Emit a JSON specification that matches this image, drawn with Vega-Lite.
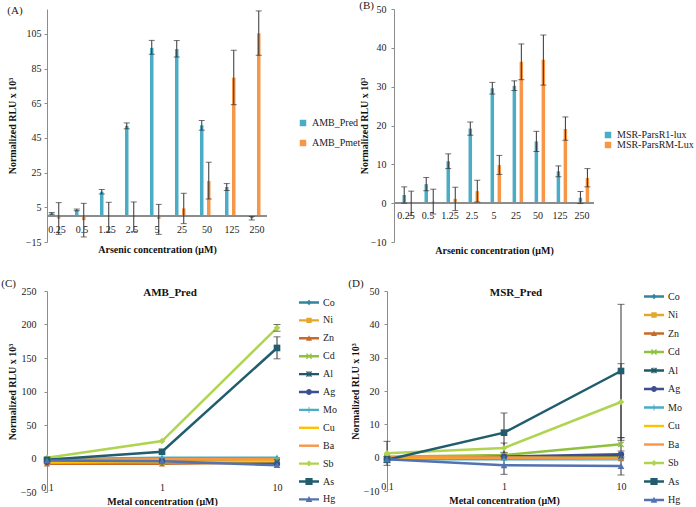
{
  "$schema": "https://vega.github.io/schema/vega-lite/v6.json",
  "padding": {"left": 1, "top": 0, "right": 0, "bottom": 0},
  "background": "white",
  "config": {
    "font": "Liberation Serif",
    "view": {"stroke": null},
    "axis": {"labelFont": "Liberation Serif", "labelFontSize": 10, "labelColor": "#222", "titleFont": "Liberation Serif", "titleFontSize": 10, "titleFontWeight": "bold", "titleColor": "#111", "domainColor": "#8c8c8c", "tickColor": "#8c8c8c", "grid": false},
    "legend": {"labelFont": "Liberation Serif", "labelFontSize": 10, "labelColor": "#222", "padding": 0},
    "title": {"font": "Liberation Serif", "fontSize": 11, "fontWeight": "normal", "color": "#222", "anchor": "start"},
    "text": {"font": "Liberation Serif", "fontSize": 10, "color": "#222"}
  },
  "datasets": {
    "A": [
      {"conc": "0.25", "series": "AMB_Pred", "value": 1.5, "lo": 1.0, "hi": 2.0},
      {"conc": "0.25", "series": "AMB_Pmet", "value": -1.5, "lo": -10.6, "hi": 7.7},
      {"conc": "0.5", "series": "AMB_Pred", "value": 3.5, "lo": 3.0, "hi": 4.0},
      {"conc": "0.5", "series": "AMB_Pmet", "value": -2.4, "lo": -12.1, "hi": 7.3},
      {"conc": "1.25", "series": "AMB_Pred", "value": 14, "lo": 12.7, "hi": 15.3},
      {"conc": "1.25", "series": "AMB_Pmet", "value": -0.5, "lo": -9.2, "hi": 7.9},
      {"conc": "2.5", "series": "AMB_Pred", "value": 52, "lo": 50.3, "hi": 53.7},
      {"conc": "2.5", "series": "AMB_Pmet", "value": -0.4, "lo": -8.9, "hi": 8.1},
      {"conc": "5", "series": "AMB_Pred", "value": 97, "lo": 93.3, "hi": 101.3},
      {"conc": "5", "series": "AMB_Pmet", "value": -1.7, "lo": -10.6, "hi": 6.7},
      {"conc": "25", "series": "AMB_Pred", "value": 96.3, "lo": 91.7, "hi": 101.2},
      {"conc": "25", "series": "AMB_Pmet", "value": 4.4, "lo": -4.4, "hi": 13.1},
      {"conc": "50", "series": "AMB_Pred", "value": 52.3, "lo": 49.5, "hi": 55.1},
      {"conc": "50", "series": "AMB_Pmet", "value": 20.2, "lo": 9.8, "hi": 31.0},
      {"conc": "125", "series": "AMB_Pred", "value": 16.7, "lo": 14.7, "hi": 18.7},
      {"conc": "125", "series": "AMB_Pmet", "value": 79.8, "lo": 64.2, "hi": 95.6},
      {"conc": "250", "series": "AMB_Pred", "value": -1.3, "lo": -2.3, "hi": -0.3},
      {"conc": "250", "series": "AMB_Pmet", "value": 105.4, "lo": 92.7, "hi": 118.3}
    ],
    "B": [
      {"conc": "0.25", "series": "MSR-ParsR1-lux", "value": 2.1, "lo": 0.0, "hi": 4.2},
      {"conc": "0.25", "series": "MSR-ParsRM-Lux", "value": -0.1, "lo": -3.2, "hi": 3.1},
      {"conc": "0.5", "series": "MSR-ParsR1-lux", "value": 4.9, "lo": 3.2, "hi": 6.6},
      {"conc": "0.5", "series": "MSR-ParsRM-Lux", "value": 0.4, "lo": -2.8, "hi": 3.6},
      {"conc": "1.25", "series": "MSR-ParsR1-lux", "value": 10.8, "lo": 8.9, "hi": 12.7},
      {"conc": "1.25", "series": "MSR-ParsRM-Lux", "value": 1.1, "lo": -1.9, "hi": 4.1},
      {"conc": "2.5", "series": "MSR-ParsR1-lux", "value": 19.2, "lo": 17.5, "hi": 20.9},
      {"conc": "2.5", "series": "MSR-ParsRM-Lux", "value": 3.1, "lo": 0.3, "hi": 5.9},
      {"conc": "5", "series": "MSR-ParsR1-lux", "value": 29.6, "lo": 28.1, "hi": 31.1},
      {"conc": "5", "series": "MSR-ParsRM-Lux", "value": 9.8, "lo": 7.4, "hi": 12.3},
      {"conc": "25", "series": "MSR-ParsR1-lux", "value": 30.2, "lo": 29.0, "hi": 31.5},
      {"conc": "25", "series": "MSR-ParsRM-Lux", "value": 36.4, "lo": 31.8, "hi": 41.0},
      {"conc": "50", "series": "MSR-ParsR1-lux", "value": 15.9, "lo": 13.3, "hi": 18.5},
      {"conc": "50", "series": "MSR-ParsRM-Lux", "value": 36.9, "lo": 30.4, "hi": 43.3},
      {"conc": "125", "series": "MSR-ParsR1-lux", "value": 8.2, "lo": 6.8, "hi": 9.6},
      {"conc": "125", "series": "MSR-ParsRM-Lux", "value": 19.1, "lo": 16.2, "hi": 22.2},
      {"conc": "250", "series": "MSR-ParsR1-lux", "value": 1.4, "lo": -0.1, "hi": 3.0},
      {"conc": "250", "series": "MSR-ParsRM-Lux", "value": 6.5, "lo": 4.2, "hi": 8.9}
    ],
    "C": [
      {"metal": "Co", "conc": "0.1", "value": -2}, {"metal": "Co", "conc": "1", "value": 0}, {"metal": "Co", "conc": "10", "value": 0},
      {"metal": "Ni", "conc": "0.1", "value": -5}, {"metal": "Ni", "conc": "1", "value": -4}, {"metal": "Ni", "conc": "10", "value": -3},
      {"metal": "Zn", "conc": "0.1", "value": -8}, {"metal": "Zn", "conc": "1", "value": -8}, {"metal": "Zn", "conc": "10", "value": -6},
      {"metal": "Cd", "conc": "0.1", "value": -3}, {"metal": "Cd", "conc": "1", "value": -6}, {"metal": "Cd", "conc": "10", "value": -3},
      {"metal": "Al", "conc": "0.1", "value": -4}, {"metal": "Al", "conc": "1", "value": -3}, {"metal": "Al", "conc": "10", "value": -5},
      {"metal": "Ag", "conc": "0.1", "value": -5}, {"metal": "Ag", "conc": "1", "value": -4}, {"metal": "Ag", "conc": "10", "value": -8},
      {"metal": "Mo", "conc": "0.1", "value": -1}, {"metal": "Mo", "conc": "1", "value": 1}, {"metal": "Mo", "conc": "10", "value": 1},
      {"metal": "Cu", "conc": "0.1", "value": -6}, {"metal": "Cu", "conc": "1", "value": -5}, {"metal": "Cu", "conc": "10", "value": -4},
      {"metal": "Ba", "conc": "0.1", "value": -2}, {"metal": "Ba", "conc": "1", "value": -1}, {"metal": "Ba", "conc": "10", "value": -1},
      {"metal": "Sb", "conc": "0.1", "value": 1}, {"metal": "Sb", "conc": "1", "value": 26}, {"metal": "Sb", "conc": "10", "value": 195, "lo": 190, "hi": 200},
      {"metal": "As", "conc": "0.1", "value": -2}, {"metal": "As", "conc": "1", "value": 10}, {"metal": "As", "conc": "10", "value": 165, "lo": 148.8, "hi": 181.6},
      {"metal": "Hg", "conc": "0.1", "value": -3}, {"metal": "Hg", "conc": "1", "value": -4}, {"metal": "Hg", "conc": "10", "value": -10}
    ],
    "D": [
      {"metal": "Co", "conc": "0.1", "value": 0}, {"metal": "Co", "conc": "1", "value": 0}, {"metal": "Co", "conc": "10", "value": 0},
      {"metal": "Ni", "conc": "0.1", "value": 0}, {"metal": "Ni", "conc": "1", "value": 0.5}, {"metal": "Ni", "conc": "10", "value": 0},
      {"metal": "Zn", "conc": "0.1", "value": -0.3}, {"metal": "Zn", "conc": "1", "value": 0.2}, {"metal": "Zn", "conc": "10", "value": -0.3},
      {"metal": "Cd", "conc": "0.1", "value": 0.3}, {"metal": "Cd", "conc": "1", "value": 0.8}, {"metal": "Cd", "conc": "10", "value": 4, "lo": 2.0, "hi": 6.0},
      {"metal": "Al", "conc": "0.1", "value": -0.3}, {"metal": "Al", "conc": "1", "value": 0}, {"metal": "Al", "conc": "10", "value": 0.5},
      {"metal": "Ag", "conc": "0.1", "value": -0.5}, {"metal": "Ag", "conc": "1", "value": 0.3}, {"metal": "Ag", "conc": "10", "value": 1},
      {"metal": "Mo", "conc": "0.1", "value": -0.5}, {"metal": "Mo", "conc": "1", "value": -0.5}, {"metal": "Mo", "conc": "10", "value": -0.5},
      {"metal": "Cu", "conc": "0.1", "value": 0}, {"metal": "Cu", "conc": "1", "value": 0}, {"metal": "Cu", "conc": "10", "value": 0},
      {"metal": "Ba", "conc": "0.1", "value": 0.2}, {"metal": "Ba", "conc": "1", "value": 0}, {"metal": "Ba", "conc": "10", "value": -0.3},
      {"metal": "Sb", "conc": "0.1", "value": 1.3, "lo": -2.3, "hi": 4.9}, {"metal": "Sb", "conc": "1", "value": 2.9, "lo": 1.4, "hi": 4.4}, {"metal": "Sb", "conc": "10", "value": 16.7, "lo": 5.2, "hi": 28.2},
      {"metal": "As", "conc": "0.1", "value": -0.6, "lo": -1.5, "hi": 0.3}, {"metal": "As", "conc": "1", "value": 7.5, "lo": 1.6, "hi": 13.4}, {"metal": "As", "conc": "10", "value": 26, "lo": 6, "hi": 46},
      {"metal": "Hg", "conc": "0.1", "value": -0.5}, {"metal": "Hg", "conc": "1", "value": -2.3, "lo": -5, "hi": 0.4}, {"metal": "Hg", "conc": "10", "value": -2.5, "lo": -5.2, "hi": 0.2}
    ]
  },
  "vconcat": [
    {
      "hconcat": [
        {
          "title": {"text": "(A)", "frame": "bounds", "offset": -7},
          "width": 220, "height": 233,
          "data": {"name": "A"},
          "encoding": {
            "x": {"field": "conc", "type": "ordinal", "sort": ["0.25", "0.5", "1.25", "2.5", "5", "25", "50", "125", "250"], "scale": {"paddingInner": 0.44, "paddingOuter": 0.12}, "axis": {"title": "Arsenic concentration (μM)", "labels": false, "ticks": false, "domain": false, "titlePadding": 2}},
            "y": {"field": "value", "type": "quantitative", "scale": {"domain": [-15, 119.4], "nice": false, "zero": false}, "axis": {"values": [-15, 5, 25, 45, 65, 85, 105], "title": "Normalized RLU x 10³", "tickSize": 3, "labelPadding": 3, "titlePadding": 8}}
          },
          "layer": [
            {
              "mark": {"type": "bar"},
              "encoding": {
                "xOffset": {"field": "series", "type": "nominal", "sort": ["AMB_Pred", "AMB_Pmet"], "scale": {"paddingInner": 0, "paddingOuter": 0}},
                "color": {"field": "series", "type": "nominal", "sort": ["AMB_Pred", "AMB_Pmet"], "scale": {"domain": ["AMB_Pred", "AMB_Pmet"], "range": ["#4bacc6", "#f79646"]}, "legend": {"title": null, "orient": "none", "legendX": 251, "legendY": 109, "symbolType": "square", "symbolSize": 42, "symbolStrokeWidth": 0, "rowPadding": 10, "labelOffset": 4}}
              }
            },
            {"mark": {"type": "rule", "color": "#8c8c8c"}, "encoding": {"x": null, "y": {"datum": 0}}},
            {
              "mark": {"type": "rule", "color": "#333", "strokeWidth": 1},
              "encoding": {"xOffset": {"field": "series", "type": "nominal", "sort": ["AMB_Pred", "AMB_Pmet"]}, "y": {"field": "lo", "type": "quantitative"}, "y2": {"field": "hi"}}
            },
            {
              "mark": {"type": "tick", "color": "#333", "thickness": 1, "size": 6},
              "encoding": {"xOffset": {"field": "series", "type": "nominal", "sort": ["AMB_Pred", "AMB_Pmet"]}, "y": {"field": "lo", "type": "quantitative"}}
            },
            {
              "mark": {"type": "tick", "color": "#333", "thickness": 1, "size": 6},
              "encoding": {"xOffset": {"field": "series", "type": "nominal", "sort": ["AMB_Pred", "AMB_Pmet"]}, "y": {"field": "hi", "type": "quantitative"}}
            },
            {
              "transform": [{"filter": "datum.series == 'AMB_Pred'"}],
              "mark": {"type": "text", "dy": 14, "baseline": "middle"},
              "encoding": {"y": {"datum": 0}, "text": {"field": "conc"}}
            }
          ]
        },
        {
          "title": {"text": "(B)", "frame": "bounds", "offset": -7},
          "width": 200, "height": 233,
          "data": {"name": "B"},
          "encoding": {
            "x": {"field": "conc", "type": "ordinal", "sort": ["0.25", "0.5", "1.25", "2.5", "5", "25", "50", "125", "250"], "scale": {"paddingInner": 0.37, "paddingOuter": 0.225}, "axis": {"title": "Arsenic concentration (μM)", "labels": false, "ticks": false, "domain": false, "titlePadding": 3}},
            "y": {"field": "value", "type": "quantitative", "scale": {"domain": [-10, 50], "nice": false, "zero": false}, "axis": {"values": [-10, 0, 10, 20, 30, 40, 50], "title": "Normalized RLU x 10³", "tickSize": 3, "labelPadding": 5, "titlePadding": 1}}
          },
          "layer": [
            {
              "mark": {"type": "bar"},
              "encoding": {
                "xOffset": {"field": "series", "type": "nominal", "sort": ["MSR-ParsR1-lux", "MSR-ParsRM-Lux"], "scale": {"paddingInner": 0, "paddingOuter": 0}},
                "color": {"field": "series", "type": "nominal", "sort": ["MSR-ParsR1-lux", "MSR-ParsRM-Lux"], "scale": {"domain": ["MSR-ParsR1-lux", "MSR-ParsRM-Lux"], "range": ["#4bacc6", "#f79646"]}, "legend": {"title": null, "orient": "none", "legendX": 209, "legendY": 121, "symbolType": "square", "symbolSize": 42, "symbolStrokeWidth": 0, "rowPadding": 0, "labelOffset": 4}}
              }
            },
            {"mark": {"type": "rule", "color": "#8c8c8c"}, "encoding": {"x": null, "y": {"datum": 0}}},
            {
              "mark": {"type": "rule", "color": "#333", "strokeWidth": 1},
              "encoding": {"xOffset": {"field": "series", "type": "nominal", "sort": ["MSR-ParsR1-lux", "MSR-ParsRM-Lux"]}, "y": {"field": "lo", "type": "quantitative"}, "y2": {"field": "hi"}}
            },
            {
              "mark": {"type": "tick", "color": "#333", "thickness": 1, "size": 6},
              "encoding": {"xOffset": {"field": "series", "type": "nominal", "sort": ["MSR-ParsR1-lux", "MSR-ParsRM-Lux"]}, "y": {"field": "lo", "type": "quantitative"}}
            },
            {
              "mark": {"type": "tick", "color": "#333", "thickness": 1, "size": 6},
              "encoding": {"xOffset": {"field": "series", "type": "nominal", "sort": ["MSR-ParsR1-lux", "MSR-ParsRM-Lux"]}, "y": {"field": "hi", "type": "quantitative"}}
            },
            {
              "transform": [{"filter": "datum.series == 'MSR-ParsR1-lux'"}],
              "mark": {"type": "text", "dy": 13, "baseline": "middle"},
              "encoding": {"y": {"datum": 0}, "text": {"field": "conc"}}
            }
          ]
        }
      ],
      "spacing": -2,
      "align": "none",
      "resolve": {"scale": {"color": "independent"}, "legend": {"color": "independent"}}
    },
    {
      "hconcat": [
        {
          "title": {"text": "(C)", "frame": "bounds", "offset": 3, "dx": -6, "dy": 6},
          "vconcat": [
            {
              "title": {"text": "AMB_Pred", "anchor": "middle", "fontWeight": "bold", "fontSize": 11, "offset": -12, "dx": 8, "color": "#111"},
              "width": 230, "height": 201,
              "data": {"name": "C"},
              "encoding": {
                "x": {"field": "conc", "type": "ordinal", "sort": ["0.1", "1", "10"], "scale": {"type": "point", "padding": 0}, "axis": {"title": "Metal concentration (μM)", "labelAngle": 0, "domain": false, "ticks": false, "tickSize": 0, "labelBaseline": "bottom", "labelPadding": 0, "titlePadding": 4}},
                "y": {"field": "value", "type": "quantitative", "scale": {"domain": [-50, 250], "nice": false, "zero": false}, "axis": {"values": [-50, 0, 50, 100, 150, 200, 250], "title": "Normalized RLU x 10³", "tickSize": 3, "labelPadding": 8, "titlePadding": 3}}
              },
              "layer": [
                {
                  "mark": {"type": "line", "strokeWidth": 2.5},
                  "encoding": {"color": {"field": "metal", "type": "nominal", "scale": {"domain": ["Co", "Ni", "Zn", "Cd", "Al", "Ag", "Mo", "Cu", "Ba", "Sb", "As", "Hg"], "range": ["#31859c", "#e3a82b", "#c8692a", "#8fc13e", "#1f5968", "#3e4f8f", "#4bacc6", "#ffc000", "#f79646", "#b0d450", "#215d6e", "#5472b0"]}, "legend": null}}
                },
                {
                  "transform": [{"filter": "isValid(datum.lo)"}],
                  "mark": {"type": "rule", "color": "#333", "strokeWidth": 1},
                  "encoding": {"y": {"field": "lo", "type": "quantitative"}, "y2": {"field": "hi"}}
                },
                {
                  "transform": [{"filter": "isValid(datum.lo)"}],
                  "mark": {"type": "tick", "color": "#333", "thickness": 1, "size": 7},
                  "encoding": {"y": {"field": "lo", "type": "quantitative"}}
                },
                {
                  "transform": [{"filter": "isValid(datum.lo)"}],
                  "mark": {"type": "tick", "color": "#333", "thickness": 1, "size": 7},
                  "encoding": {"y": {"field": "hi", "type": "quantitative"}}
                },
                {
                  "transform": [{"filter": "datum.metal != 'Cu' && datum.metal != 'Ba'"}],
                  "mark": {"type": "point", "filled": true, "opacity": 1},
                  "encoding": {
                    "color": {"field": "metal", "type": "nominal", "scale": {"domain": ["Co", "Ni", "Zn", "Cd", "Al", "Ag", "Mo", "Cu", "Ba", "Sb", "As", "Hg"], "range": ["#31859c", "#e3a82b", "#c8692a", "#8fc13e", "#1f5968", "#3e4f8f", "#4bacc6", "#ffc000", "#f79646", "#b0d450", "#215d6e", "#5472b0"]}, "legend": null},
                    "shape": {"field": "metal", "type": "nominal", "scale": {"domain": ["Co", "Ni", "Zn", "Cd", "Al", "Ag", "Mo", "Cu", "Ba", "Sb", "As", "Hg"], "range": ["diamond", "square", "triangle-up", "M-1,-0.7L-0.7,-1L0,-0.3L0.7,-1L1,-0.7L0.3,0L1,0.7L0.7,1L0,0.3L-0.7,1L-1,0.7L-0.3,0Z", "M-1,-0.7L-0.7,-1L0,-0.3L0.7,-1L1,-0.7L0.3,0L1,0.7L0.7,1L0,0.3L-0.7,1L-1,0.7L-0.3,0Z M-0.15,-1L0.15,-1L0.15,1L-0.15,1Z", "circle", "M-0.15,-1L0.15,-1L0.15,-0.15L1,-0.15L1,0.15L0.15,0.15L0.15,1L-0.15,1L-0.15,0.15L-1,0.15L-1,-0.15L-0.15,-0.15Z", "circle", "circle", "diamond", "square", "triangle-up"]}, "legend": null},
                    "size": {"field": "metal", "type": "nominal", "scale": {"domain": ["Co", "Ni", "Zn", "Cd", "Al", "Ag", "Mo", "Cu", "Ba", "Sb", "As", "Hg"], "range": [35, 45, 45, 40, 40, 45, 40, 0, 0, 45, 75, 50]}, "legend": null}
                  }
                },
                {
                  "transform": [{"filter": "false"}],
                  "mark": {"type": "point", "filled": true, "size": 36},
                  "encoding": {
                    "color": {"field": "metal", "type": "nominal", "scale": {"domain": ["Co", "Ni", "Zn", "Cd", "Al", "Ag", "Mo", "Cu", "Ba", "Sb", "As", "Hg"], "range": ["#31859c", "#e3a82b", "#c8692a", "#8fc13e", "#1f5968", "#3e4f8f", "#4bacc6", "#ffc000", "#f79646", "#b0d450", "#215d6e", "#5472b0"]}, "legend": {"title": null, "orient": "none", "legendX": 257, "legendY": 6.5, "symbolSize": 36, "symbolStrokeWidth": 0, "rowPadding": 7.9, "labelOffset": 9, "symbolOpacity": 1}},
                    "shape": {"field": "metal", "type": "nominal", "scale": {"domain": ["Co", "Ni", "Zn", "Cd", "Al", "Ag", "Mo", "Cu", "Ba", "Sb", "As", "Hg"], "range": ["M-3.33,-0.4H3.33V0.4H-3.33Z M0,-0.9L0.9,0L0,0.9L-0.9,0Z", "M-3.33,-0.4H3.33V0.4H-3.33Z M-0.9,-0.9H0.9V0.9H-0.9Z", "M-3.33,-0.4H3.33V0.4H-3.33Z M0,-1L1,0.8H-1Z", "M-3.33,-0.4H3.33V0.4H-3.33Z M-1,-0.7L-0.7,-1L0,-0.3L0.7,-1L1,-0.7L0.3,0L1,0.7L0.7,1L0,0.3L-0.7,1L-1,0.7L-0.3,0Z", "M-3.33,-0.4H3.33V0.4H-3.33Z M-1,-0.7L-0.7,-1L0,-0.3L0.7,-1L1,-0.7L0.3,0L1,0.7L0.7,1L0,0.3L-0.7,1L-1,0.7L-0.3,0Z M-0.15,-1L0.15,-1L0.15,1L-0.15,1Z", "M-3.33,-0.4H3.33V0.4H-3.33Z M-1,0A1,1 0 1,1 1,0A1,1 0 1,1 -1,0Z", "M-3.33,-0.4H3.33V0.4H-3.33Z M-0.15,-1L0.15,-1L0.15,-0.15L1,-0.15L1,0.15L0.15,0.15L0.15,1L-0.15,1L-0.15,0.15L-1,0.15L-1,-0.15L-0.15,-0.15Z", "M-3.33,-0.4H3.33V0.4H-3.33Z", "M-3.33,-0.4H3.33V0.4H-3.33Z", "M-3.33,-0.4H3.33V0.4H-3.33Z M0,-1L1,0L0,1L-1,0Z", "M-3.33,-0.4H3.33V0.4H-3.33Z M-1.2,-1.2H1.2V1.2H-1.2Z", "M-3.33,-0.4H3.33V0.4H-3.33Z M0,-1.1L1.1,0.9H-1.1Z"]}, "legend": {"title": null, "orient": "none", "legendX": 257, "legendY": 6.5, "symbolSize": 36, "symbolStrokeWidth": 0, "rowPadding": 7.9, "labelOffset": 9, "symbolOpacity": 1}}
                  }
                }
              ],
              "resolve": {"scale": {"color": "independent", "shape": "independent", "size": "independent"}, "legend": {"color": "independent", "shape": "independent", "size": "independent"}}
            }
          ],
          "resolve": {"scale": {"color": "independent", "shape": "independent", "size": "independent"}, "legend": {"color": "independent", "shape": "independent", "size": "independent"}}
        },
        {
          "title": {"text": "(D)", "frame": "bounds", "offset": 3, "dx": -2, "dy": 6},
          "vconcat": [
            {
              "title": {"text": "MSR_Pred", "anchor": "middle", "fontWeight": "bold", "fontSize": 11, "offset": -12, "dx": 12, "color": "#111"},
              "width": 234, "height": 200,
              "data": {"name": "D"},
              "encoding": {
                "x": {"field": "conc", "type": "ordinal", "sort": ["0.1", "1", "10"], "scale": {"type": "point", "padding": 0}, "axis": {"title": "Metal concentration (μM)", "labelAngle": 0, "domain": false, "ticks": false, "tickSize": 0, "labelBaseline": "bottom", "labelPadding": 0, "titlePadding": 4}},
                "y": {"field": "value", "type": "quantitative", "scale": {"domain": [-10, 50], "nice": false, "zero": false}, "axis": {"values": [-10, 0, 10, 20, 30, 40, 50], "title": "Normalized RLU x 10³", "tickSize": 3, "labelPadding": 5, "titlePadding": 3}}
              },
              "layer": [
                {
                  "mark": {"type": "line", "strokeWidth": 2.5},
                  "encoding": {"color": {"field": "metal", "type": "nominal", "scale": {"domain": ["Co", "Ni", "Zn", "Cd", "Al", "Ag", "Mo", "Cu", "Ba", "Sb", "As", "Hg"], "range": ["#31859c", "#e3a82b", "#c8692a", "#8fc13e", "#1f5968", "#3e4f8f", "#4bacc6", "#ffc000", "#f79646", "#b0d450", "#215d6e", "#5472b0"]}, "legend": null}}
                },
                {
                  "transform": [{"filter": "isValid(datum.lo)"}],
                  "mark": {"type": "rule", "color": "#333", "strokeWidth": 1},
                  "encoding": {"y": {"field": "lo", "type": "quantitative"}, "y2": {"field": "hi"}}
                },
                {
                  "transform": [{"filter": "isValid(datum.lo)"}],
                  "mark": {"type": "tick", "color": "#333", "thickness": 1, "size": 7},
                  "encoding": {"y": {"field": "lo", "type": "quantitative"}}
                },
                {
                  "transform": [{"filter": "isValid(datum.lo)"}],
                  "mark": {"type": "tick", "color": "#333", "thickness": 1, "size": 7},
                  "encoding": {"y": {"field": "hi", "type": "quantitative"}}
                },
                {
                  "transform": [{"filter": "datum.metal != 'Cu' && datum.metal != 'Ba'"}],
                  "mark": {"type": "point", "filled": true, "opacity": 1},
                  "encoding": {
                    "color": {"field": "metal", "type": "nominal", "scale": {"domain": ["Co", "Ni", "Zn", "Cd", "Al", "Ag", "Mo", "Cu", "Ba", "Sb", "As", "Hg"], "range": ["#31859c", "#e3a82b", "#c8692a", "#8fc13e", "#1f5968", "#3e4f8f", "#4bacc6", "#ffc000", "#f79646", "#b0d450", "#215d6e", "#5472b0"]}, "legend": null},
                    "shape": {"field": "metal", "type": "nominal", "scale": {"domain": ["Co", "Ni", "Zn", "Cd", "Al", "Ag", "Mo", "Cu", "Ba", "Sb", "As", "Hg"], "range": ["diamond", "square", "triangle-up", "M-1,-0.7L-0.7,-1L0,-0.3L0.7,-1L1,-0.7L0.3,0L1,0.7L0.7,1L0,0.3L-0.7,1L-1,0.7L-0.3,0Z", "M-1,-0.7L-0.7,-1L0,-0.3L0.7,-1L1,-0.7L0.3,0L1,0.7L0.7,1L0,0.3L-0.7,1L-1,0.7L-0.3,0Z M-0.15,-1L0.15,-1L0.15,1L-0.15,1Z", "circle", "M-0.15,-1L0.15,-1L0.15,-0.15L1,-0.15L1,0.15L0.15,0.15L0.15,1L-0.15,1L-0.15,0.15L-1,0.15L-1,-0.15L-0.15,-0.15Z", "circle", "circle", "diamond", "square", "triangle-up"]}, "legend": null},
                    "size": {"field": "metal", "type": "nominal", "scale": {"domain": ["Co", "Ni", "Zn", "Cd", "Al", "Ag", "Mo", "Cu", "Ba", "Sb", "As", "Hg"], "range": [35, 45, 45, 40, 40, 45, 40, 0, 0, 45, 75, 50]}, "legend": null}
                  }
                },
                {
                  "transform": [{"filter": "false"}],
                  "mark": {"type": "point", "filled": true, "size": 36},
                  "encoding": {
                    "color": {"field": "metal", "type": "nominal", "scale": {"domain": ["Co", "Ni", "Zn", "Cd", "Al", "Ag", "Mo", "Cu", "Ba", "Sb", "As", "Hg"], "range": ["#31859c", "#e3a82b", "#c8692a", "#8fc13e", "#1f5968", "#3e4f8f", "#4bacc6", "#ffc000", "#f79646", "#b0d450", "#215d6e", "#5472b0"]}, "legend": {"title": null, "orient": "none", "legendX": 262, "legendY": 0.5, "symbolSize": 36, "symbolStrokeWidth": 0, "rowPadding": 8.5, "labelOffset": 9, "symbolOpacity": 1}},
                    "shape": {"field": "metal", "type": "nominal", "scale": {"domain": ["Co", "Ni", "Zn", "Cd", "Al", "Ag", "Mo", "Cu", "Ba", "Sb", "As", "Hg"], "range": ["M-3.33,-0.4H3.33V0.4H-3.33Z M0,-0.9L0.9,0L0,0.9L-0.9,0Z", "M-3.33,-0.4H3.33V0.4H-3.33Z M-0.9,-0.9H0.9V0.9H-0.9Z", "M-3.33,-0.4H3.33V0.4H-3.33Z M0,-1L1,0.8H-1Z", "M-3.33,-0.4H3.33V0.4H-3.33Z M-1,-0.7L-0.7,-1L0,-0.3L0.7,-1L1,-0.7L0.3,0L1,0.7L0.7,1L0,0.3L-0.7,1L-1,0.7L-0.3,0Z", "M-3.33,-0.4H3.33V0.4H-3.33Z M-1,-0.7L-0.7,-1L0,-0.3L0.7,-1L1,-0.7L0.3,0L1,0.7L0.7,1L0,0.3L-0.7,1L-1,0.7L-0.3,0Z M-0.15,-1L0.15,-1L0.15,1L-0.15,1Z", "M-3.33,-0.4H3.33V0.4H-3.33Z M-1,0A1,1 0 1,1 1,0A1,1 0 1,1 -1,0Z", "M-3.33,-0.4H3.33V0.4H-3.33Z M-0.15,-1L0.15,-1L0.15,-0.15L1,-0.15L1,0.15L0.15,0.15L0.15,1L-0.15,1L-0.15,0.15L-1,0.15L-1,-0.15L-0.15,-0.15Z", "M-3.33,-0.4H3.33V0.4H-3.33Z", "M-3.33,-0.4H3.33V0.4H-3.33Z", "M-3.33,-0.4H3.33V0.4H-3.33Z M0,-1L1,0L0,1L-1,0Z", "M-3.33,-0.4H3.33V0.4H-3.33Z M-1.2,-1.2H1.2V1.2H-1.2Z", "M-3.33,-0.4H3.33V0.4H-3.33Z M0,-1.1L1.1,0.9H-1.1Z"]}, "legend": {"title": null, "orient": "none", "legendX": 262, "legendY": 0.5, "symbolSize": 36, "symbolStrokeWidth": 0, "rowPadding": 8.5, "labelOffset": 9, "symbolOpacity": 1}}
                  }
                }
              ],
              "resolve": {"scale": {"color": "independent", "shape": "independent", "size": "independent"}, "legend": {"color": "independent", "shape": "independent", "size": "independent"}}
            }
          ],
          "resolve": {"scale": {"color": "independent", "shape": "independent", "size": "independent"}, "legend": {"color": "independent", "shape": "independent", "size": "independent"}}
        }
      ],
      "spacing": 11,
      "align": "none",
      "resolve": {"scale": {"color": "independent", "shape": "independent", "size": "independent"}, "legend": {"color": "independent", "shape": "independent", "size": "independent"}}
    }
  ],
  "spacing": 23,
  "align": "none",
  "resolve": {"scale": {"color": "independent", "shape": "independent", "size": "independent"}, "legend": {"color": "independent", "shape": "independent", "size": "independent"}}
}
